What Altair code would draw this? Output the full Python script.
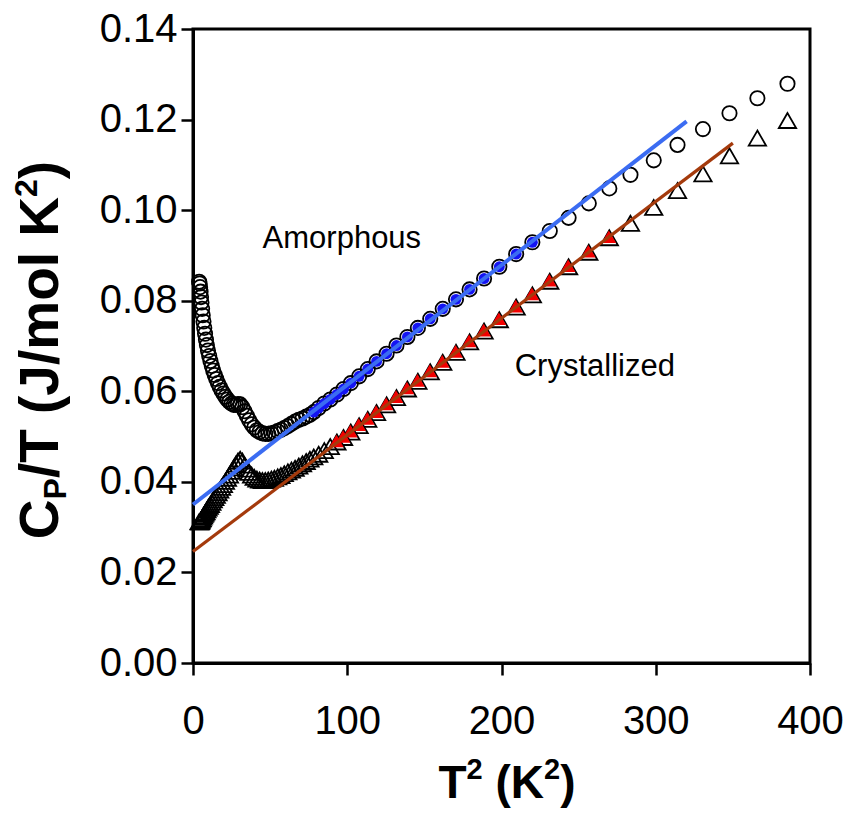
import altair as alt
import pandas as pd

# ---------------- data ----------------
t2 = [4.0, 4.3, 4.6, 4.9, 5.2, 5.5, 5.9, 6.3, 6.8, 7.3, 7.8, 8.4, 9.0, 9.7, 10.5,
      11.3, 12.2, 13.1, 14.1, 15.1, 16.2, 17.3, 18.5, 19.7, 21.0, 22.3, 23.6, 25.0,
      26.4, 27.8, 29.2, 30.6, 32.0, 33.4, 34.9, 36.4, 38.0, 39.7, 41.4, 43.2, 45.0,
      46.9, 48.8, 50.8, 52.8, 54.9, 57.0, 59.2, 61.5, 63.8, 66.2, 68.6, 71.0, 73.4,
      75.8, 78.3, 81.5, 85.1, 89.0, 93.3, 97.6, 102.3, 107.7, 113.3, 119.0, 125.5,
      131.9, 139.0, 145.8, 153.8, 161.9, 170.5, 179.3, 188.7, 198.6, 209.5, 220.0,
      231.3, 243.5, 256.6, 269.9, 283.6, 298.7, 314.1, 330.6, 347.8, 365.9, 385.4]

amorphous = [0.0842, 0.0838, 0.0830, 0.0820, 0.0808, 0.0796, 0.0782, 0.0768, 0.0754,
             0.0740, 0.0727, 0.0714, 0.0702, 0.0690, 0.0678, 0.0667, 0.0656, 0.0646,
             0.0636, 0.0627, 0.0618, 0.0610, 0.0602, 0.0595, 0.0588, 0.0582, 0.0577,
             0.0573, 0.0570, 0.0570, 0.0572, 0.0571, 0.0565, 0.0556, 0.0546, 0.0536,
             0.0527, 0.0520, 0.0514, 0.0510, 0.0507, 0.0506, 0.0506, 0.0507, 0.0509,
             0.0512, 0.0515, 0.0519, 0.0523, 0.0528, 0.0533, 0.0537, 0.0540, 0.0544,
             0.0548, 0.0554, 0.0563, 0.0573, 0.0582, 0.0593, 0.0605, 0.0618, 0.0633,
             0.0649, 0.0666, 0.0683, 0.0701, 0.0720, 0.0740, 0.0760, 0.0782, 0.0803,
             0.0825, 0.0849, 0.0875, 0.0903, 0.0929, 0.0954, 0.0983, 0.1015, 0.1048,
             0.1078, 0.1110, 0.1144, 0.1179, 0.1214, 0.1247, 0.1279]

crystallized = [0.0312, 0.0311, 0.0312, 0.0313, 0.0315, 0.0317, 0.0319, 0.0322, 0.0325,
                0.0328, 0.0331, 0.0334, 0.0338, 0.0342, 0.0346, 0.0350, 0.0355, 0.0360,
                0.0365, 0.0370, 0.0376, 0.0382, 0.0388, 0.0394, 0.0401, 0.0408, 0.0415,
                0.0423, 0.0431, 0.0439, 0.0446, 0.0450, 0.0446, 0.0437, 0.0428, 0.0421,
                0.0415, 0.0410, 0.0406, 0.0404, 0.0403, 0.0403, 0.0404, 0.0406, 0.0408,
                0.0411, 0.0414, 0.0418, 0.0422, 0.0426, 0.0430, 0.0435, 0.0440, 0.0445,
                0.0450, 0.0455, 0.0461, 0.0469, 0.0478, 0.0488, 0.0498, 0.0510, 0.0524,
                0.0538, 0.0553, 0.0570, 0.0586, 0.0605, 0.0622, 0.0643, 0.0664, 0.0686,
                0.0709, 0.0733, 0.0758, 0.0786, 0.0813, 0.0843, 0.0875, 0.0907, 0.0939,
                0.0971, 0.1006, 0.1043, 0.1080, 0.1120, 0.1159, 0.1198]

# points that are highlighted (filled) in each series: T^2 range
amorphous_fill_range = [76, 221]
crystallized_fill_range = [92, 271]

# linear fits
fit_amorphous_t2 = [0, 320]
fit_amorphous_cp = [0.0350, 0.1196]
fit_crystal_t2 = [0, 350]
fit_crystal_cp = [0.0246, 0.1148]

ann_text = ["Amorphous", "Crystallized"]
ann_t2 = [96.5, 260.5]
ann_cp = [0.0936, 0.0653]

x_ticks = [0, 100, 200, 300, 400]
y_ticks = [0.00, 0.02, 0.04, 0.06, 0.08, 0.10, 0.12, 0.14]

# ---------------- chart ----------------
FONT = "Liberation Sans"
W, H = 617, 634
LEFT = 185

pts = pd.DataFrame({"t2": t2, "am": amorphous, "cr": crystallized})
fit_am = pd.DataFrame({"t2": fit_amorphous_t2, "cp": fit_amorphous_cp})
fit_cr = pd.DataFrame({"t2": fit_crystal_t2, "cp": fit_crystal_cp})
ann = pd.DataFrame({"text": ann_text, "t2": ann_t2, "cp": ann_cp})

xscale = alt.Scale(domain=[0, 400], nice=False, zero=False)
yscale = alt.Scale(domain=[0, 0.14], nice=False, zero=False)

common_axis = dict(title=None, grid=False, labelFont=FONT, labelFontSize=40,
                   labelColor="black", labelFlush=False, labelOverlap=False,
                   tickSize=12, tickWidth=2.5, tickColor="black",
                   domainColor="black", domainWidth=3)
xax = alt.Axis(values=x_ticks, format="d", labelPadding=26, **common_axis)
yax = alt.Axis(values=y_ticks, format=".2f", labelPadding=4, **common_axis)

X = alt.X("t2:Q", scale=xscale, axis=xax)

open_circles = alt.Chart(pts).mark_point(
    shape="circle", filled=False, stroke="black", strokeWidth=1.8, size=205, opacity=1
).encode(x=X, y=alt.Y("am:Q", scale=yscale, axis=yax))

open_tri = alt.Chart(pts).mark_point(
    shape="triangle-up", filled=False, stroke="black", strokeWidth=1.8, size=300, opacity=1
).encode(x=alt.X("t2:Q", scale=xscale), y=alt.Y("cr:Q", scale=yscale))

blue_pts = alt.Chart(pts).transform_filter(
    (alt.datum.t2 >= amorphous_fill_range[0]) & (alt.datum.t2 <= amorphous_fill_range[1])
).mark_point(shape="circle", filled=True, color="#1414F2", size=120, opacity=1, strokeWidth=0
).encode(x=alt.X("t2:Q", scale=xscale), y=alt.Y("am:Q", scale=yscale))

red_pts = alt.Chart(pts).transform_filter(
    (alt.datum.t2 >= crystallized_fill_range[0]) & (alt.datum.t2 <= crystallized_fill_range[1])
).mark_point(shape="triangle-up", filled=True, color="#F20000", size=215, opacity=1,
             strokeWidth=0, yOffset=-1, xOffset=-0.5
).encode(x=alt.X("t2:Q", scale=xscale), y=alt.Y("cr:Q", scale=yscale))

line_am = alt.Chart(fit_am).mark_line(color="#3B6CF2", strokeWidth=4).encode(
    x=alt.X("t2:Q", scale=xscale), y=alt.Y("cp:Q", scale=yscale))
line_cr = alt.Chart(fit_cr).mark_line(color="#A43A0C", strokeWidth=3.2).encode(
    x=alt.X("t2:Q", scale=xscale), y=alt.Y("cp:Q", scale=yscale))

ann_layer = alt.Chart(ann).mark_text(
    font=FONT, fontSize=31, color="black", align="center", baseline="middle"
).encode(x=alt.X("t2:Q", scale=xscale), y=alt.Y("cp:Q", scale=yscale), text="text:N")

# --- axis titles built from pieces (sub/superscripts) ---
BW = {"T": 0.611, "2": 0.556, " ": 0.278, "(": 0.333, "K": 0.722, ")": 0.333,
      "C": 0.722, "P": 0.667, "/": 0.278, "J": 0.556, "m": 0.889, "o": 0.611, "l": 0.278}


def tw(s, size):
    return sum(BW[c] for c in s) * size


one = pd.DataFrame({"k": [0]})
title_layers = []


def piece(s, size, x, y, angle=None):
    kw = dict(text=s, font=FONT, fontSize=size, fontWeight="bold", color="black",
              align="left", baseline="alphabetic")
    if angle is not None:
        kw["angle"] = angle
    return alt.Chart(one).mark_text(**kw).encode(x=alt.value(x), y=alt.value(y))


# x title: T^2 (K^2)
FX, fx = 46, 29
xpieces = [("T", FX, 0), ("2", fx, -19), (" ", FX, 0), ("(K", FX, 0), ("2", fx, -19), (")", FX, 0)]
total = sum(tw(s, sz) for s, sz, _ in xpieces)
cx = (507 - 8 - LEFT) - total / 2
base_y = 769
for s, sz, dy in xpieces:
    if s.strip():
        title_layers.append(piece(s, sz, cx, base_y + dy))
    cx += tw(s, sz)

# y title: C_P/T (J/mol K^2), rotated
FY, fy = 55, 32
ypieces = [("C", FY, 0), ("P", fy, 8), ("/T (J/mol K", FY, 0), ("2", fy, -21), (")", FY, 0)]
totaly = sum(tw(s, sz) for s, sz, _ in ypieces)
cy = 321 + totaly / 2
base_x = 58 - 8 - LEFT
for s, sz, dx in ypieces:
    title_layers.append(piece(s, sz, base_x + dx, cy, angle=270))
    cy -= tw(s, sz)

chart = alt.layer(
    open_circles, open_tri, blue_pts, red_pts, line_am, line_cr, ann_layer, *title_layers
).properties(
    width=W, height=H,
    autosize=alt.AutoSizeParams(type="none"),
    padding={"left": LEFT, "top": 21, "right": 34, "bottom": 148},
).configure_view(stroke="black", strokeWidth=3)

chart.save("out.html", embed_options={"renderer": "svg", "actions": False})
